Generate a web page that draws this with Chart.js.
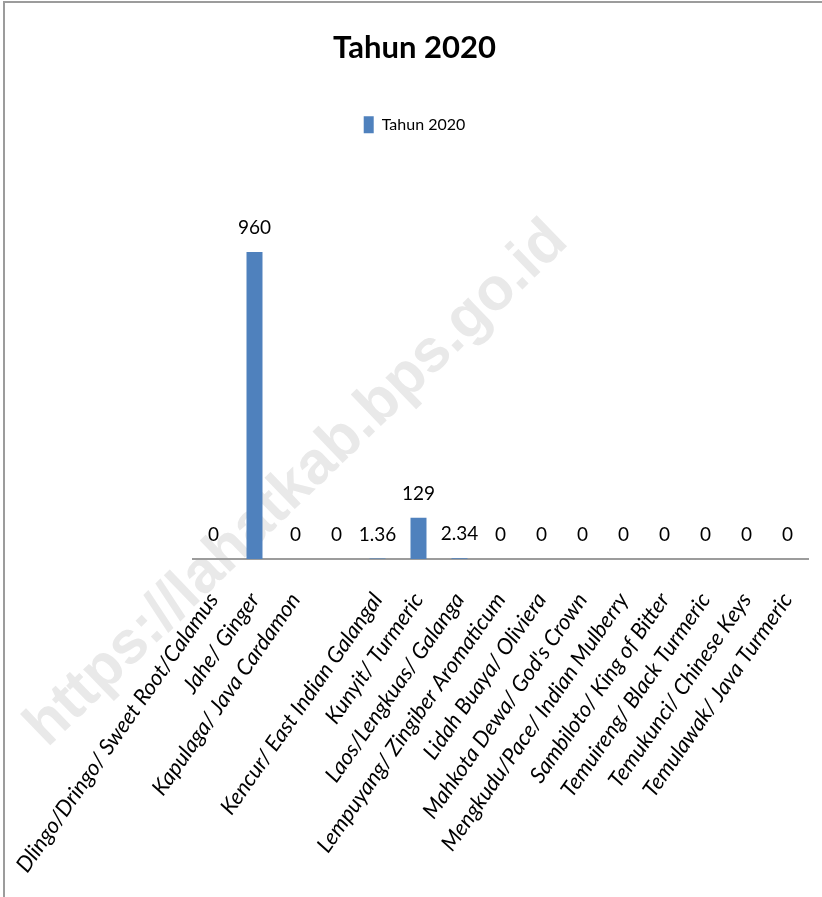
<!DOCTYPE html>
<html>
<head>
<meta charset="utf-8">
<script src="https://cdn.jsdelivr.net/npm/chart.js@4"></script>
<style>
    body { margin: 0; background: #fff; }
    #wrap { position: relative; width: 822px; height: 897px; }
    #frame {
        position: absolute; left: 3px; top: 1px; right: 0; bottom: 0;
        border-left: 2px solid #9c9c9c; border-top: 2px solid #9c9c9c;
        pointer-events: none;
    }
</style>
</head>
<body>
<div id="wrap">
    <canvas id="herbChart" width="822" height="897"></canvas>
    <div id="frame"></div>
</div>
<script>
const categories = [
    'Dlingo/Dringo/ Sweet Root/Calamus',
    'Jahe/ Ginger',
    'Kapulaga/ Java Cardamon',
    '',
    'Kencur/ East Indian Galangal',
    'Kunyit/ Turmeric',
    'Laos/Lengkuas/ Galanga',
    'Lempuyang/ Zingiber Aromaticum',
    'Lidah Buaya/ Oliviera',
    'Mahkota Dewa/ God\'s Crown',
    'Mengkudu/Pace/ Indian Mulberry',
    'Sambiloto/ King of Bitter',
    'Temuireng/ Black Turmeric',
    'Temukunci/ Chinese Keys',
    'Temulawak/ Java Turmeric'
];
const tahun2020 = [0, 960, 0, 0, 1.36, 129, 2.34, 0, 0, 0, 0, 0, 0, 0, 0];

const font = "Lato, 'Noto Sans', sans-serif";

// watermark, painted first so everything sits on top of it
const watermark = {
    id: 'watermark',
    beforeDraw(chart) {
        const ctx = chart.ctx;
        ctx.save();
        ctx.translate(297, 484);
        ctx.rotate(-44 * Math.PI / 180);
        ctx.font = "bold 60px 'Liberation Sans', Arial, sans-serif";
        ctx.fillStyle = '#e9e9e9';
        ctx.textAlign = 'center';
        ctx.textBaseline = 'middle';
        ctx.fillText('https://lahatkab.bps.go.id', 0, 0);
        ctx.restore();
    }
};

// value labels above each bar
const valueLabels = {
    id: 'valueLabels',
    afterDatasetsDraw(chart) {
        const ctx = chart.ctx;
        const meta = chart.getDatasetMeta(0);
        ctx.save();
        ctx.font = '19px ' + font;
        ctx.fillStyle = '#000';
        ctx.textAlign = 'center';
        ctx.textBaseline = 'alphabetic';
        meta.data.forEach((bar, i) => {
            ctx.fillText(String(tahun2020[i]), bar.x, bar.y - 18);
        });
        ctx.restore();
    }
};

new Chart(document.getElementById('herbChart'), {
    type: 'bar',
    data: {
        labels: categories,
        datasets: [{
            label: 'Tahun 2020',
            data: tahun2020,
            backgroundColor: '#4f81bd',
            borderWidth: 0,
            barPercentage: 0.39,
            categoryPercentage: 1
        }]
    },
    options: {
        responsive: false,
        animation: false,
        layout: {
            padding: { left: 7, right: 0, top: 0, bottom: 2 }
        },
        plugins: {
            title: {
                display: true,
                text: 'Tahun 2020',
                color: '#000',
                font: { family: font, size: 31, weight: 'bold' },
                padding: { top: 29, bottom: 40 }
            },
            legend: {
                position: 'top',
                labels: {
                    color: '#000',
                    font: { family: font, size: 16 },
                    boxWidth: 10,
                    boxHeight: 17,
                    padding: 10
                }
            },
            tooltip: { enabled: false }
        },
        scales: {
            x: {
                grid: { display: false, drawTicks: false },
                border: { display: true, color: '#9c9c9c', width: 2 },
                ticks: {
                    color: '#000',
                    autoSkip: false,
                    minRotation: 55,
                    maxRotation: 55,
                    padding: 29,
                    font: { family: font, size: 22, style: 'italic' }
                },
                afterFit(scale) {
                    scale.height = 336;
                    // the side axes already leave room for the long labels
                    scale.paddingLeft = 0;
                    scale.paddingRight = 0;
                }
            },
            y: {
                min: 0,
                max: 1300,
                grid: { display: false },
                border: { display: false },
                ticks: { display: false },
                afterFit(scale) { scale.width = 186; }
            },
            yRight: {
                position: 'right',
                grid: { display: false },
                border: { display: false },
                ticks: { display: false },
                afterFit(scale) { scale.width = 14; }
            }
        }
    },
    plugins: [watermark, valueLabels]
});
</script>
</body>
</html>
